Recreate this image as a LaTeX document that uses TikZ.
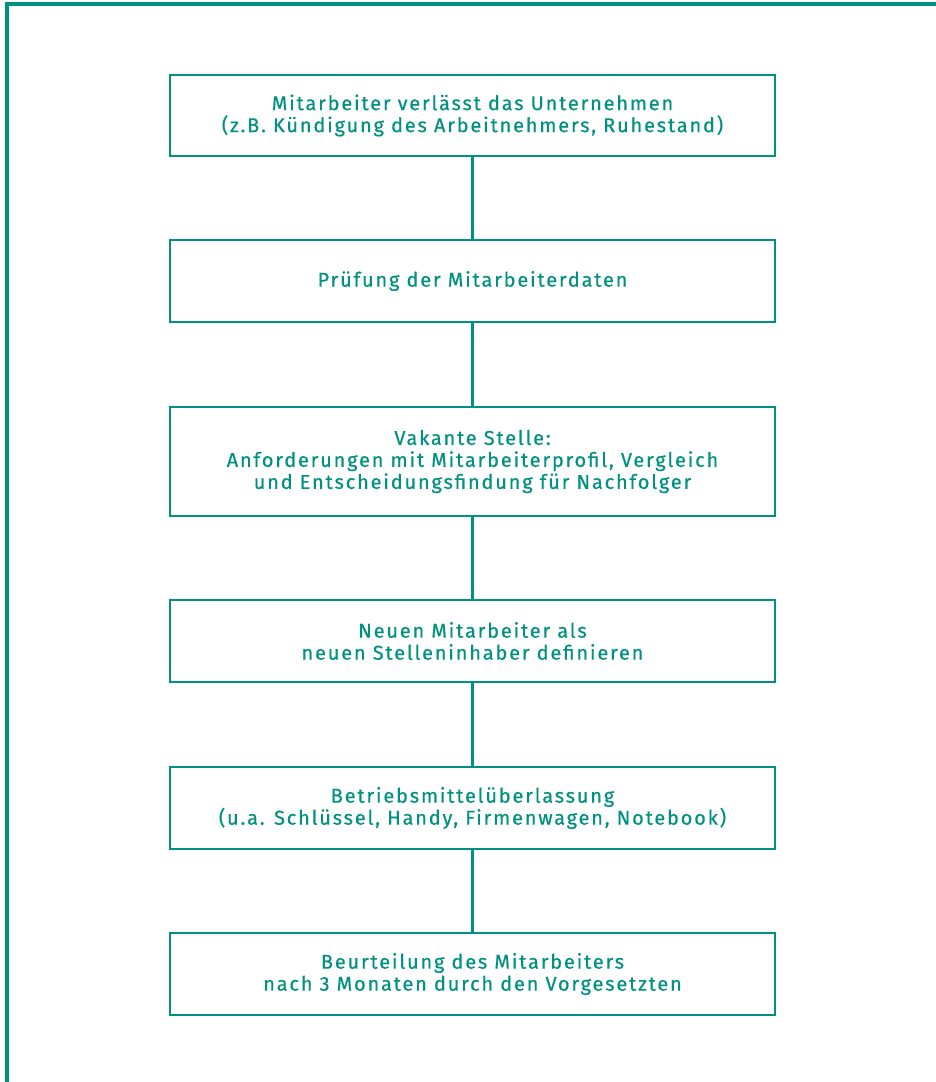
\documentclass[tikz,border=0pt]{standalone}
\usepackage{fontspec}
\setmainfont{Fira Sans}[LetterSpace=9,FakeBold=0.45]
\definecolor{teal1}{RGB}{0,145,128}
\begin{document}
\begin{tikzpicture}[x=1pt,y=-1pt,
  stepbox/.style={draw=teal1, line width=2.4pt, minimum width=605pt, inner sep=0pt,
    text=teal1, align=center, font=\fontsize{20}{22}\selectfont},
  link/.style={draw=teal1, line width=2.4pt}]
\useasboundingbox (0,0) rectangle (935,1082);
\draw[teal1, line width=4pt] (7,1090) -- (7,4) -- (945,4);
\node[stepbox, minimum height=81pt] (b1) at (472.5,115.5) {Mitarbeiter verlässt das Unternehmen\\(z.B. Kündigung des Arbeitnehmers, Ruhestand)};
\node[stepbox, minimum height=82pt] (b2) at (472.5,281) {Prüfung der Mitarbeiterdaten};
\node[stepbox, minimum height=109pt] (b3) at (472.5,461.5) {Vakante Stelle:\\Anforderungen mit Mitarbeiterprofil, Vergleich\\und Entscheidungsfindung für Nachfolger};
\node[stepbox, minimum height=82pt] (b4) at (472.5,641) {Neuen Mitarbeiter als\\neuen Stelleninhaber definieren};
\node[stepbox, minimum height=82pt] (b5) at (472.5,808) {Betriebsmittelüberlassung\\(u.a. Schlüssel, Handy, Firmenwagen, Notebook)};
\node[stepbox, minimum height=82pt] (b6) at (472.5,974) {Beurteilung des Mitarbeiters\\nach 3 Monaten durch den Vorgesetzten};
\draw[link] (b1) -- (b2);
\draw[link] (b2) -- (b3);
\draw[link] (b3) -- (b4);
\draw[link] (b4) -- (b5);
\draw[link] (b5) -- (b6);
\end{tikzpicture}
\end{document}
